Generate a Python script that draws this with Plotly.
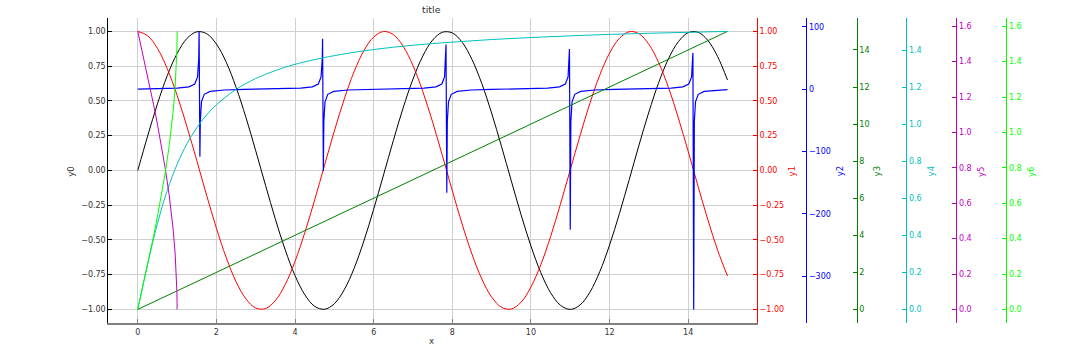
import plotly.graph_objects as go

# ---------------- data ----------------
x_sc = [i * 0.25 for i in range(61)]  # 0 .. 15 step 0.25
y0_sin = [0.000, 0.247, 0.479, 0.682, 0.841, 0.949, 0.997, 0.984, 0.909, 0.778,
          0.598, 0.382, 0.141, -0.108, -0.351, -0.572, -0.757, -0.895, -0.978, -0.999,
          -0.959, -0.859, -0.706, -0.508, -0.279, -0.033, 0.215, 0.450, 0.657, 0.823,
          0.938, 0.994, 0.989, 0.922, 0.798, 0.625, 0.412, 0.174, -0.075, -0.320,
          -0.544, -0.735, -0.880, -0.970, -1.000, -0.968, -0.876, -0.729, -0.537, -0.311,
          -0.066, 0.183, 0.420, 0.632, 0.804, 0.926, 0.991, 0.994, 0.935, 0.818, 0.650]
y1_cos = [1.000, 0.969, 0.878, 0.732, 0.540, 0.315, 0.071, -0.178, -0.416, -0.628,
          -0.801, -0.924, -0.990, -0.994, -0.936, -0.821, -0.654, -0.446, -0.211, 0.037,
          0.284, 0.512, 0.709, 0.861, 0.960, 0.999, 0.977, 0.893, 0.754, 0.567,
          0.347, 0.104, -0.146, -0.386, -0.602, -0.781, -0.911, -0.985, -0.997, -0.948,
          -0.839, -0.679, -0.476, -0.243, 0.004, 0.251, 0.483, 0.685, 0.844, 0.950,
          0.998, 0.983, 0.907, 0.775, 0.595, 0.377, 0.137, -0.113, -0.355, -0.575, -0.760]

x_tan = [0.000, 0.500, 1.000, 1.300, 1.450, 1.520, 1.550, 1.560, 1.580, 1.590, 1.620, 1.690, 1.840, 2.200, 2.700,
         3.142, 3.642, 4.142, 4.442, 4.592, 4.662, 4.692, 4.700, 4.720, 4.732, 4.762, 4.832, 4.982, 5.342, 5.842,
         6.283, 6.783, 7.283, 7.583, 7.733, 7.803, 7.833, 7.840, 7.860, 7.873, 7.903, 7.973, 8.123, 8.483, 8.983,
         9.425, 9.925, 10.425, 10.725, 10.875, 10.945, 10.975, 10.980, 11.000, 11.015, 11.045, 11.115, 11.265, 11.625, 12.125,
         12.566, 13.066, 13.566, 13.866, 14.016, 14.086, 14.116, 14.120, 14.140, 14.156, 14.186, 14.256, 14.406, 14.766, 15.000]
y2_tan = [0.0, 0.546, 1.557, 3.602, 8.24, 19.67, 48.1, 92.6, -108.6, -52.1, -20.3, -8.35, -3.63, -1.374, -0.473,
          0.0, 0.546, 1.557, 3.602, 8.24, 19.67, 48.1, 80.7, -131.4, -52.1, -20.3, -8.35, -3.63, -1.374, -0.473,
          0.0, 0.546, 1.557, 3.602, 8.24, 19.67, 48.1, 71.5, -166.1, -52.1, -20.3, -8.35, -3.63, -1.374, -0.473,
          0.0, 0.546, 1.557, 3.602, 8.24, 19.67, 48.1, 64.2, -225.7, -52.1, -20.3, -8.35, -3.63, -1.374, -0.473,
          0.0, 0.546, 1.557, 3.602, 8.24, 19.67, 48.1, 58.1, -353.4, -52.1, -20.3, -8.35, -3.63, -1.374, -0.856]

x_lin = [0, 15]
y3_lin = [0, 15]

x_atan = [0, 0.25, 0.5, 0.75, 1, 1.25, 1.5, 1.75, 2, 2.5, 3, 3.5, 4, 5, 6, 7, 8, 9, 10, 11, 12, 13, 14, 15]
y4_atan = [0.000, 0.245, 0.464, 0.644, 0.785, 0.896, 0.983, 1.052, 1.107, 1.190, 1.249, 1.292, 1.326, 1.373,
           1.406, 1.429, 1.446, 1.460, 1.471, 1.480, 1.488, 1.494, 1.499, 1.504]

x_unit = [0.0, 0.1, 0.2, 0.3, 0.4, 0.5, 0.6, 0.7, 0.8, 0.85, 0.9, 0.95, 0.98, 0.99, 0.995, 0.999, 1.0]
y5_acos = [1.571, 1.471, 1.369, 1.266, 1.159, 1.047, 0.927, 0.795, 0.644, 0.555, 0.451, 0.318, 0.200, 0.142, 0.100, 0.045, 0.0]
y6_asin = [0.000, 0.100, 0.201, 0.305, 0.412, 0.524, 0.644, 0.775, 0.927, 1.016, 1.120, 1.253, 1.371, 1.429, 1.471, 1.526, 1.571]

x_ticks = [0, 2, 4, 6, 8, 10, 12, 14]

# ---------------- styling ----------------
FONT = "DejaVu Sans"
TXT = "#333333"
C1, C2, C3, C4, C5, C6 = "#ff0000", "#0000ff", "#008000", "#00bfbf", "#bf00bf", "#00ff00"
W = 1080
H = 359


def pad(lo, hi):
    s = hi - lo
    return [lo - 0.05 * s, hi + 0.05 * s]


fig = go.Figure()
fig.add_trace(go.Scatter(x=x_sc, y=y0_sin, mode="lines", line=dict(color="black", width=1, shape="spline"),
                         yaxis="y", showlegend=False))
fig.add_trace(go.Scatter(x=x_sc, y=y1_cos, mode="lines", line=dict(color=C1, width=1, shape="spline"),
                         yaxis="y2", showlegend=False))
fig.add_trace(go.Scatter(x=x_tan, y=y2_tan, mode="lines", line=dict(color=C2, width=1.2),
                         yaxis="y3", showlegend=False))
fig.add_trace(go.Scatter(x=x_lin, y=y3_lin, mode="lines", line=dict(color=C3, width=1),
                         yaxis="y4", showlegend=False))
fig.add_trace(go.Scatter(x=x_atan, y=y4_atan, mode="lines", line=dict(color=C4, width=1, shape="spline"),
                         yaxis="y5", showlegend=False))
fig.add_trace(go.Scatter(x=x_unit, y=y5_acos, mode="lines", line=dict(color=C5, width=1),
                         yaxis="y6", showlegend=False))
fig.add_trace(go.Scatter(x=x_unit, y=y6_asin, mode="lines", line=dict(color=C6, width=1),
                         yaxis="y7", showlegend=False))

x0, x1 = 108.3 / W, 757.0 / W
yb, yt = 1 - 323.3 / H, 1 - 17.5 / H


def right_axis(color, rng, dtick, fmt, pos=None):
    d = dict(range=rng, dtick=dtick, tick0=0, tickformat=fmt, showgrid=False, zeroline=False,
             showline=True, linecolor=color, linewidth=1, ticks="inside", ticklen=4, tickcolor=color,
             tickfont=dict(family=FONT, size=8, color=color), overlaying="y", side="right",
             domain=[yb, yt])
    if pos is None:
        d["anchor"] = "x"
    else:
        d["anchor"] = "free"
        d["position"] = pos
    return d


fig.update_layout(
    width=W, height=H,
    margin=dict(l=0, r=0, t=0, b=0),
    paper_bgcolor="white", plot_bgcolor="white",
    font=dict(family=FONT, size=8, color=TXT),
    xaxis=dict(domain=[x0, x1], range=[-0.75, 15.75], tickvals=x_ticks, showgrid=True,
               gridcolor="#cfcfcf", gridwidth=1, zeroline=False, showline=True, linecolor="#808080",
               linewidth=2, ticks="inside", ticklen=4, tickcolor="#808080",
               tickfont=dict(family=FONT, size=8, color=TXT)),
    yaxis=dict(domain=[yb, yt], range=[-1.1, 1.1], dtick=0.25, tick0=0, tickformat=".2f",
               showgrid=True, gridcolor="#cfcfcf", gridwidth=1, zeroline=False, showline=True,
               linecolor="black", linewidth=1, ticks="inside", ticklen=4, tickcolor="black",
               tickfont=dict(family=FONT, size=8, color=TXT)),
    yaxis2=right_axis(C1, [-1.1, 1.1], 0.25, ".2f"),
    yaxis3=right_axis(C2, pad(min(y2_tan), max(y2_tan)), 100, "d", 806.3 / W),
    yaxis4=right_axis(C3, pad(min(y3_lin), max(y3_lin)), 2, "d", 856.7 / W),
    yaxis5=right_axis(C4, pad(min(y4_atan), max(y4_atan)), 0.2, ".1f", 906.3 / W),
    yaxis6=right_axis(C5, pad(min(y5_acos), max(y5_acos)), 0.2, ".1f", 956.3 / W),
    yaxis7=right_axis(C6, pad(min(y6_asin), max(y6_asin)), 0.2, ".1f", 1006.3 / W),
)

annots = [
    ("title", 431.7, 9.5, TXT, 0, 9.5),
    ("x", 431.7, 340.5, TXT, 0, 8.5),
    ("y0", 71.0, 171.7, TXT, -90, 8.5),
    ("y1", 791.7, 171.7, C1, -90, 8.5),
    ("y2", 839.5, 171.7, C2, -90, 8.5),
    ("y3", 876.7, 171.7, C3, -90, 8.5),
    ("y4", 930.7, 171.7, C4, -90, 8.5),
    ("y5", 980.3, 171.7, C5, -90, 8.5),
    ("y6", 1030.3, 171.7, C6, -90, 8.5),
]
for text, px, py, col, ang, sz in annots:
    fig.add_annotation(text=text, x=px / W, y=1 - py / H, xref="paper", yref="paper",
                       showarrow=False, textangle=ang, xanchor="center", yanchor="middle",
                       font=dict(family=FONT, size=sz, color=col))

fig.write_html("out.html")
